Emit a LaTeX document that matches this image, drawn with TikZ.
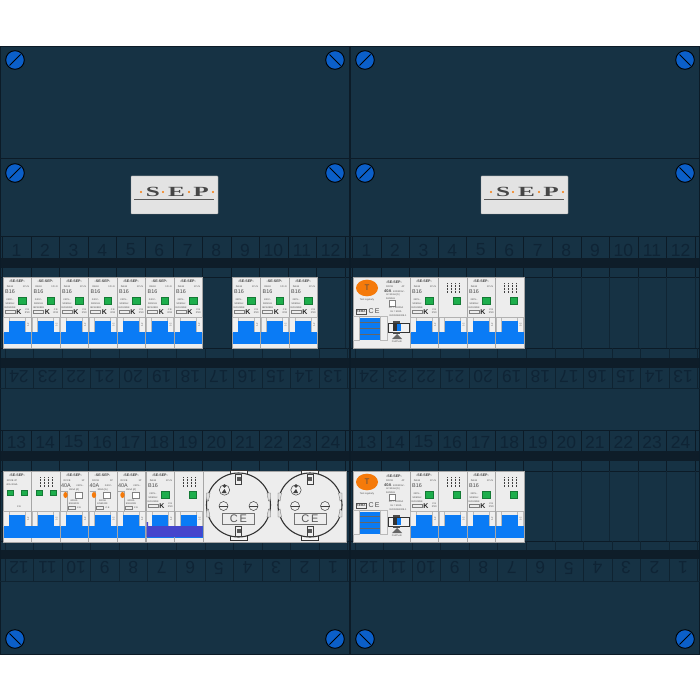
\documentclass[tikz,border=0pt]{standalone}
\usepackage{fontspec}
\setmainfont{Liberation Sans}
\newfontfamily\logofont{Liberation Serif}
\usetikzlibrary{arrows.meta}

\definecolor{panelblue}{HTML}{163244}
\definecolor{banddark}{HTML}{0E1D29}
\definecolor{linedark}{HTML}{0C1B27}
\definecolor{digitdark}{HTML}{0F2435}
\definecolor{screwblue}{HTML}{0B5FC9}
\definecolor{modblue}{HTML}{0A7BF5}
\definecolor{modwhite}{HTML}{EDEDED}
\definecolor{modgreen}{HTML}{1DAE4C}
\definecolor{modpurple}{HTML}{4545CC}
\definecolor{ledorange}{HTML}{F57A0A}

\tikzset{
    panel/.style={draw=linedark, line width=0.9pt, fill=panelblue},
    band/.style={fill=banddark},
    divider/.style={draw=linedark, line width=0.8pt},
    softdivider/.style={draw=linedark!65!panelblue, line width=0.6pt},
    faintdivider/.style={draw=linedark!55!panelblue, line width=0.6pt},
    digit/.style={font=\fontsize{17.5}{18}\selectfont, text=digitdark, inner sep=0pt},
    digitflip/.style={digit, rotate=180},
    screw/.style={draw=black, line width=0.9pt, fill=screwblue},
    slot/.style={draw=black, line width=0.8pt},
    logobox/.style={draw=gray!80, line width=0.4pt, fill=gray!22, rounded corners=0.6pt},
    logoletter/.style={font=\logofont\fontsize{14}{14}\bfseries\selectfont, text=black!72, inner sep=0pt, xscale=1.8},
    body/.style={fill=modwhite, draw=gray!70, line width=0.4pt},
    tab/.style={fill=gray!12, draw=gray!55, line width=0.4pt},
    tinytext/.style={font=\fontsize{2.4}{2.9}\selectfont, text=gray!60!black, inner sep=0pt},
    headtext/.style={font=\fontsize{3.6}{4}\bfseries\selectfont, text=black!75, inner sep=0pt},
    ratetext/.style={font=\fontsize{5.4}{6}\selectfont, text=black!70, inner sep=0pt},
    greenled/.style={fill=modgreen, draw=modgreen!70!black, line width=0.2pt},
    pin/.style={draw=black!75, line width=0.5pt, fill=gray!12},
    socketline/.style={draw=black!80, line width=1.1pt, fill=modwhite}
}

% one screw: position and slot direction
\newcommand{\screwat}[3]{
    \draw[screw] (#1,#2) circle (9.3pt);
    \draw[slot] (#1-5.5,#2+5.5*#3) -- (#1+5.5,#2-5.5*#3);
}

% white body with the switch and the blue bar
\newcommand{\modbase}[2]{
    \begin{scope}[shift={(#1,#2)}]
        \fill[body] (0,0) rectangle (28.5,71);
        \fill[tab] (0.5,40) rectangle (6,55);
        \fill[tab] (22,40) rectangle (28,55);
        \draw[gray!60, line width=0.5pt] (0,40) -- (28.5,40);
        \fill[modblue] (6,44) rectangle (22,55);
        \fill[modblue] (0.8,55) rectangle (28.2,67);
        \node[tinytext, rotate=90] at (25,48) {1-2};
    \end{scope}
}

% breaker
\newcommand{\mcbmod}[2]{
    \modbase{#1}{#2}
    \begin{scope}[shift={(#1,#2)}]
        \node[headtext] at (14,4) {-SE-SEP-};
        \node[tinytext] at (7,10) {IN634};
        \node[tinytext] at (23,10) {1P+N};
        \node[ratetext] at (7,15) {B16};
        \fill[greenled] (15.5,20.5) rectangle (23,27);
        \node[tinytext] at (7,23) {240V\textasciitilde};
        \node[tinytext] at (7,27) {50/60Hz};
        \node[tinytext] at (7,31) {IEC60898};
        \draw[gray, line width=0.3pt] (2,33) rectangle (12,36.5);
        \node[font=\fontsize{7}{7}\bfseries\selectfont, inner sep=0pt, text=black!85] at (16,34.8) {K};
        \node[tinytext, align=center] at (24.3,34.5) {C\,E\\IP20};
    \end{scope}
}

% terminals only
\newcommand{\termmod}[2]{
    \modbase{#1}{#2}
    \begin{scope}[shift={(#1,#2)}]
        \foreach \tx in {9,13,17,21}{
            \draw[gray!50!black, line width=0.5pt, densely dotted] (\tx,6) -- (\tx,16);
        }
    \end{scope}
}

% neutral part with its terminals
\newcommand{\neutralmod}[2]{
    \termmod{#1}{#2}
    \begin{scope}[shift={(#1,#2)}]
        \fill[greenled] (15,20.5) rectangle (22,27);
    \end{scope}
}

% residual current breaker with orange dot
\newcommand{\rcbomod}[2]{
    \modbase{#1}{#2}
    \begin{scope}[shift={(#1,#2)}]
        \node[headtext] at (14,4) {-SE-SEP-};
        \node[tinytext] at (7,10) {RCCB};
        \node[tinytext] at (23,10) {1P};
        \node[ratetext] at (6,14.5) {40A};
        \node[tinytext] at (20,14.5) {240V\textasciitilde};
        \node[tinytext] at (14,18.5) {30mA [A]};
        \draw[gray!70, line width=0.3pt] (1,20) -- (7,20) -- (7,40);
        \fill[ledorange] (5.5,24) ellipse (2.2pt and 3pt);
        \draw[gray, line width=0.4pt, fill=white] (15,21) rectangle (22,27);
        \node[tinytext] at (14,30) {6000A};
        \node[tinytext] at (14,33) {EN61009};
        \draw[gray, line width=0.3pt] (8,35) rectangle (15,38);
        \node[tinytext] at (19,36.5) {C\,E};
    \end{scope}
}

% four pole residual current switch
\newcommand{\rcdmod}[2]{
    \begin{scope}[shift={(#1,#2)}]
        \fill[body] (0,0) rectangle (57,71);
        \fill[ledorange] (14,11) ellipse (11pt and 8.3pt);
        \node[font=\fontsize{8}{8}\selectfont, text=black!70, inner sep=0pt] at (14,11) {T};
        \node[tinytext] at (14,23) {Test regularly};
        \node[headtext] at (41,5) {-SE-SEP-};
        \node[tinytext, anchor=west] at (33,10) {RCCB};
        \node[tinytext] at (50,10) {4P};
        \node[font=\fontsize{4}{4}\bfseries\selectfont, inner sep=0pt, text=black!70, anchor=west] at (31,14.5) {40A};
        \node[tinytext, anchor=west] at (40,14.5) {400/415V\textasciitilde};
        \node[tinytext, anchor=west] at (33,18) {In=30mA [S]};
        \node[tinytext, anchor=west] at (33,21.5) {50/60Hz};
        \draw[gray, line width=0.4pt, fill=white] (36,23) rectangle (42,29);
        \node[tinytext] at (43,31) {Inc = 10000A};
        \node[tinytext] at (43,35) {Im = 500A};
        \node[tinytext] at (45,38.5) {IEC/EN61008-1};
        \draw[black!70, line width=0.4pt] (3,32) rectangle (13,37.5);
        \node[font=\fontsize{3}{3}\bfseries\selectfont, inner sep=0pt, text=black!70] at (8,34.7) {KEMA};
        \node[font=\fontsize{7}{7}\selectfont, inner sep=0pt, text=black!70] at (21,34.5) {C\,E};
        \draw[gray!70, line width=0.4pt] (0,39.5) -- (34,39.5);
        \fill[tab] (0.5,39.5) rectangle (6.5,63);
        \fill[tab] (27,39.5) rectangle (34,63);
        \fill[modblue] (6.5,41) rectangle (27,63);
        \foreach \ty in {45,51,57}{
            \draw[black!60, line width=0.4pt] (6.5,\ty) -- (27,\ty);
        }
        \draw[black!80, line width=0.9pt, fill=gray!10] (35,46) rectangle (56,55);
        \fill[modblue] (44,47) rectangle (48,54);
        \fill[black!80] (40,47) rectangle (44,54);
        \fill[black!70] (40,44) rectangle (47,46);
        \fill[black!70] (40,55) rectangle (47,57);
        \fill[gray!80!black] (39,62) -- (44,57) -- (49,62) -- cycle;
        \node[tinytext] at (44,65) {Pull/Push};
    \end{scope}
}

\newcommand{\socketat}[2]{
    \begin{scope}[shift={(#1,#2)}]
        \draw[black!80, line width=0.8pt, fill=gray!8] (-8.5,-35) rectangle (8.5,35);
        \draw[socketline] (0,0) circle (32pt);
        \fill[gray!25, draw=black!60, line width=0.3pt] (-32,-12) -- (-28.5,-12) -- (-30,-4) -- (-32,-6) -- cycle;
        \fill[gray!25, draw=black!60, line width=0.3pt] (32,-12) -- (28.5,-12) -- (30,-4) -- (32,-6) -- cycle;
        \fill[gray!25, draw=black!60, line width=0.3pt] (-32,12) -- (-28.5,12) -- (-30,4) -- (-32,6) -- cycle;
        \fill[gray!25, draw=black!60, line width=0.3pt] (32,12) -- (28.5,12) -- (30,4) -- (32,6) -- cycle;
        \draw[pin] (-3,-31) rectangle (3,-21);
        \fill[black!65] (-2,-28) rectangle (2,-24);
        \draw[pin] (-3,21) rectangle (3,31);
        \fill[black!65] (-2,24) rectangle (2,28);
        \draw[pin] (-14,-15) circle (5.2pt);
        \fill[black!75] (-14,-16) -- (-12,-12) -- (-17,-12) -- cycle;
        \fill[black!75] (-14,-19) circle (1.8pt);
        \draw[pin] (-15,1) circle (4.5pt);
        \draw[black!75, line width=0.3pt] (-19.5,1.5) -- (-10.5,1.5);
        \draw[pin] (15,1) circle (4.5pt);
        \draw[black!75, line width=0.3pt] (10.5,1.5) -- (19.5,1.5);
        \draw[black!55, line width=0.5pt] (-16,8) rectangle (16,19);
        \node[font=\fontsize{11}{11}\selectfont, text=black!65, inner sep=0pt] at (0,13.5) {C\,E};
    \end{scope}
}

\newcommand{\logoat}[2]{
    \begin{scope}[shift={(#1,#2)}]
        \fill[logobox] (0,1) rectangle (87,39);
        \node[logoletter] at (22,17) {S};
        \node[logoletter] at (45.5,17) {E};
        \node[logoletter] at (70,17) {P};
        \foreach \dx in {10,32,58,82}{
            \fill[ledorange] (\dx,17) circle (1.1pt);
        }
        \draw[black!65, line width=0.9pt] (3,24.5) -- (83,24.5);
    \end{scope}
}

\begin{document}
\begin{tikzpicture}[x=1pt, y=-1pt]
\useasboundingbox (0,0) rectangle (700,700);

% front panels
\fill[panelblue] (0,46) rectangle (700,654);
\draw[panel] (0.5,46.5) rectangle (699.5,654);
\draw[divider] (0,158) -- (700,158);
\draw[divider] (0,236.5) -- (700,236.5);
\draw[softdivider] (0,388) -- (700,388);
\draw[divider] (0,430) -- (700,430);
\draw[softdivider] (0,581) -- (700,581);

% dark bands above and below the modules
\fill[band] (1,258) rectangle (699,268);
\fill[band] (1,358) rectangle (699,368);
\fill[band] (1,451) rectangle (699,461);
\fill[band] (1,550) rectangle (699,559);
\foreach \y in {277,348,471,541}{
    \draw[linedark, line width=0.6pt] (0,\y) -- (700,\y);
}

% cell borders
\foreach \xa in {2.5,352.5}{
    \foreach \k in {0,...,12}{
        \pgfmathsetmacro{\xx}{\xa+28.55*\k}
        \pgfmathsetmacro{\xf}{\xa+2.5+28.55*\k}
        \draw[divider] (\xx,237) -- (\xx,258);
        \draw[divider] (\xx,268) -- (\xx,277);
        \draw[faintdivider] (\xx,277) -- (\xx,348);
        \draw[softdivider] (\xf,348) -- (\xf,358);
        \draw[softdivider] (\xf,368) -- (\xf,388);
        \draw[divider] (\xx,430) -- (\xx,451);
        \draw[divider] (\xx,461) -- (\xx,471);
        \draw[faintdivider] (\xx,471) -- (\xx,541);
        \draw[softdivider] (\xf,541) -- (\xf,550);
        \draw[softdivider] (\xf,559) -- (\xf,581);
    }
}

% numbers
\foreach \xa/\side in {16.5/l,366.5/r}{
    \foreach \k in {1,...,12}{
        \pgfmathsetmacro{\xx}{\xa+28.55*(\k-1)}
        \pgfmathsetmacro{\xf}{\xa+2.5+28.55*(\k-1)}
        \pgfmathtruncatemacro{\na}{25-\k}
        \pgfmathtruncatemacro{\nb}{12+\k}
        \pgfmathtruncatemacro{\nc}{13-\k}
        \node[digit] (top\side\k) at (\xx,250) {\k};
        \node[digitflip] (upper\side\k) at (\xf,376.5) {\na};
        \node[digit] (mid\side\k) at (\xx,442) {\nb};
        \node[digitflip] (low\side\k) at (\xf,568) {\nc};
    }
}

% centre seam
\draw[linedark, line width=1.5pt] (350,46) -- (350,654);

% screws
\screwat{15}{60}{1}
\screwat{335}{60}{-1}
\screwat{365}{60}{1}
\screwat{685}{60}{-1}
\screwat{15}{173}{1}
\screwat{335}{173}{-1}
\screwat{365}{173}{1}
\screwat{685}{173}{-1}
\screwat{15}{639}{-1}
\screwat{335}{639}{1}
\screwat{365}{639}{-1}
\screwat{685}{639}{1}

% logos
\logoat{131}{175}
\logoat{481}{175}

% row 1 left
\foreach \xx in {3,31.5,60,88.5,117,145.5,174,232,260.5,289}{
    \mcbmod{\xx}{277}
}

% row 1 right
\rcdmod{353}{277}
\mcbmod{410}{277}
\neutralmod{438.5}{277}
\mcbmod{467}{277}
\neutralmod{495.5}{277}

% row 2 left
\modbase{3}{471}
\node[headtext] (head1) at (17,475) {-SE-SEP-};
\node[tinytext] (rate1) at (12,481) {RCCB 2P};
\node[tinytext] (rate2) at (12,485) {40A 30mA};
\fill[greenled] (7,490) rectangle (13,495);
\fill[greenled] (21,490) rectangle (27,495);
\node[tinytext] (mark1) at (19,507) {C\,E};
\termmod{31.5}{471}
\fill[greenled] (36,490) rectangle (42,495);
\fill[greenled] (50,490) rectangle (56,495);
\foreach \xx in {60,88.5,117}{
    \rcbomod{\xx}{471}
}
\mcbmod{146}{471}
\neutralmod{174.5}{471}
\fill[modpurple] (146.5,522) -- (148,522) -- (148,526) -- (202.5,526) -- (202.5,537) -- (146.5,537) -- cycle;
\fill[modblue] (3.8,526) rectangle (60,538);

% sockets
\fill[body] (203,471) rectangle (346,542);
\socketat{238.5}{505}
\socketat{310}{505}

% row 2 right
\rcdmod{353}{471}
\mcbmod{410}{471}
\neutralmod{438.5}{471}
\mcbmod{467}{471}
\neutralmod{495.5}{471}

\end{tikzpicture}
\end{document}
